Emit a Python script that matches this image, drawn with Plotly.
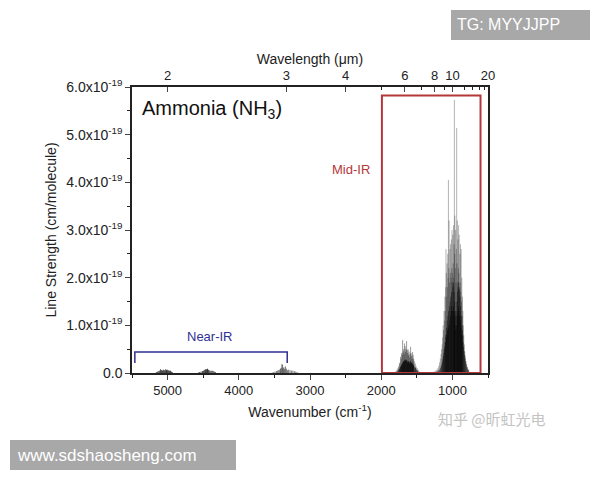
import plotly.graph_objects as go

# ---------------- data (wavenumber in cm^-1, line strength in 1e-19 cm/molecule) -------------
nir1_wn = [4935, 4948, 4960, 4972, 4983, 4995, 5005, 5015, 5026, 5037, 5048, 5060, 5072, 5085, 5098, 5110, 5124, 5140, 5158]
nir1_s = [0.02, 0.03, 0.05, 0.04, 0.06, 0.05, 0.07, 0.06, 0.08, 0.05, 0.06, 0.07, 0.05, 0.06, 0.08, 0.05, 0.04, 0.03, 0.02]

nir2_wn = [4330, 4345, 4360, 4375, 4390, 4405, 4420, 4430, 4440, 4450, 4460, 4470, 4480, 4495, 4510, 4530, 4550, 4565]
nir2_s = [0.02, 0.03, 0.04, 0.05, 0.04, 0.05, 0.06, 0.07, 0.09, 0.08, 0.07, 0.08, 0.06, 0.05, 0.04, 0.03, 0.02, 0.01]

nir3_wn = [3180, 3200, 3220, 3240, 3260, 3280, 3300, 3315, 3330, 3345, 3355, 3365, 3375, 3385,
           3395, 3405, 3415, 3425, 3440, 3455, 3470, 3490, 3510, 3530]
nir3_s = [0.02, 0.03, 0.04, 0.05, 0.05, 0.06, 0.07, 0.06, 0.09, 0.14, 0.08, 0.12, 0.10, 0.17,
          0.19, 0.11, 0.09, 0.07, 0.06, 0.05, 0.04, 0.03, 0.02, 0.01]

nu4_wn = [1465, 1480, 1495, 1510, 1522, 1535, 1545, 1552, 1559, 1566, 1573, 1580, 1587, 1594, 1600,
          1608, 1615, 1622, 1628, 1635, 1643, 1650, 1657, 1664, 1671, 1678, 1685, 1692, 1699, 1706,
          1713, 1720, 1728, 1736, 1745, 1755, 1765, 1778, 1792, 1808]
nu4_s = [0.03, 0.06, 0.10, 0.14, 0.20, 0.25, 0.30, 0.38, 0.44, 0.30, 0.36, 0.42, 0.55, 0.40, 0.33,
         0.45, 0.38, 0.50, 0.42, 0.48, 0.67, 0.50, 0.45, 0.56, 0.62, 0.40, 0.50, 0.45, 0.69, 0.38,
         0.42, 0.30, 0.34, 0.22, 0.20, 0.14, 0.10, 0.07, 0.04, 0.02]
nu4w_wn = [1490, 1505, 1518, 1528, 1540, 1548, 1556, 1562, 1569, 1576, 1583, 1590, 1597, 1604, 1611,
           1618, 1625, 1631, 1638, 1646, 1653, 1660, 1667, 1674, 1681, 1688, 1695, 1702, 1709, 1716,
           1724, 1732, 1741, 1750, 1760, 1772]
nu4w_s = [0.05, 0.07, 0.10, 0.12, 0.14, 0.17, 0.20, 0.18, 0.22, 0.20, 0.23, 0.25, 0.22, 0.20, 0.23,
          0.25, 0.24, 0.22, 0.26, 0.28, 0.25, 0.27, 0.28, 0.26, 0.23, 0.25, 0.22, 0.20, 0.18, 0.16,
          0.14, 0.12, 0.09, 0.07, 0.05, 0.03]

nu2_wn = [770, 780, 790, 800, 810, 818, 826, 833, 840, 847, 852, 858, 863, 868, 872, 877, 881, 886,
          890, 895, 900, 905, 909, 913, 918, 922, 927, 931, 935, 940, 945, 950, 955, 960, 965, 968,
          972, 976, 980, 985, 990, 995, 1000, 1005, 1010, 1015, 1020, 1025, 1030, 1035, 1040, 1046,
          1050, 1056, 1060, 1065, 1070, 1075, 1080, 1085, 1090, 1095, 1100, 1106, 1112, 1118, 1124,
          1130, 1137, 1144, 1152, 1160, 1170, 1180, 1192, 1205, 1220, 1240, 1260, 1285]
nu2_s = [0.05, 0.08, 0.12, 0.18, 0.25, 0.35, 0.45, 0.60, 0.80, 1.00, 1.30, 1.60, 1.20, 2.00, 1.50,
         2.60, 1.70, 2.70, 1.90, 2.50, 1.80, 2.90, 2.10, 3.10, 2.20, 2.80, 1.90, 3.20, 2.30, 5.14,
         2.60, 1.90, 3.00, 2.20, 3.30, 2.50, 5.73, 2.70, 2.00, 3.10, 2.30, 2.90, 2.10, 3.00, 2.20,
         2.80, 2.00, 2.70, 2.10, 2.60, 1.90, 3.20, 2.20, 4.05, 2.00, 2.50, 1.80, 2.30, 1.60, 2.10,
         2.60, 1.80, 1.30, 1.60, 1.10, 1.30, 0.90, 1.00, 0.75, 0.60, 0.50, 0.40, 0.30, 0.22, 0.15,
         0.10, 0.07, 0.05, 0.03, 0.02]
nu2w_wn = [775, 785, 795, 805, 813, 822, 829, 836, 843, 849, 855, 861, 866, 870, 875, 879, 884, 888,
           893, 897, 902, 907, 911, 916, 920, 925, 929, 933, 937, 943, 948, 952, 958, 962, 967, 970,
           974, 978, 983, 988, 992, 997, 1003, 1008, 1012, 1017, 1022, 1027, 1032, 1037, 1043, 1048,
           1053, 1058, 1063, 1068, 1073, 1078, 1083, 1088, 1093, 1098, 1103, 1109, 1115, 1121, 1127,
           1134, 1141, 1148, 1156, 1165, 1175, 1186, 1198, 1212, 1230, 1250, 1275]
nu2w_s = [0.06, 0.09, 0.13, 0.18, 0.24, 0.30, 0.38, 0.46, 0.55, 0.65,
          0.78, 0.90, 1.00, 0.80, 1.20, 0.95, 1.40, 1.10, 1.60, 1.20,
          1.75, 1.30, 1.90, 1.40, 1.80, 1.20, 1.70, 1.30, 1.50, 1.00,
          1.20, 0.90, 1.30, 1.00, 1.50, 1.20, 1.70, 1.30, 1.90, 1.40,
          1.80, 1.30, 1.90, 1.40, 1.70, 1.30, 1.60, 1.20, 1.50, 1.10,
          1.40, 1.00, 1.30, 0.95, 1.20, 0.90, 1.10, 0.80, 0.95, 0.75,
          0.80, 0.65, 0.65, 0.55, 0.50, 0.42, 0.36, 0.30, 0.24, 0.19,
          0.15, 0.11, 0.08, 0.06, 0.05, 0.04, 0.03, 0.02, 0.01]

y_ticks = [0, 1, 2, 3, 4, 5, 6]
y_ticktext = ["0.0"] + [f"{v}.0x10<sup>-19</sup>" for v in y_ticks[1:]]
x_ticks = [5000, 4000, 3000, 2000, 1000]
wl_major = [2, 3, 4, 6, 8, 10, 20]
wl_minor = [5, 7, 9, 12, 14, 16, 18]

SCALE = 1e-19

def sticks(wn, s):
    xs, ys = [], []
    for w, v in zip(wn, s):
        xs += [w, w, None]
        ys += [0, v * SCALE, None]
    return xs, ys

fig = go.Figure()
for wn, s, a in [(nir1_wn, nir1_s, 0.7), (nir2_wn, nir2_s, 0.7), (nir3_wn, nir3_s, 0.5),
                 (nu4w_wn, nu4w_s, 0.6), (nu4_wn, nu4_s, 0.4),
                 (nu2w_wn, nu2w_s, 0.45), (nu2_wn, nu2_s, 0.3)]:
    xs, ys = sticks(wn, s)
    fig.add_trace(go.Scatter(x=xs, y=ys, mode="lines",
                             line=dict(color=f"rgba(0,0,0,{a})", width=1),
                             hoverinfo="skip", showlegend=False))
# invisible trace bound to the top (wavelength) axis
fig.add_trace(go.Scatter(x=nu2_wn, y=[0] * len(nu2_wn), xaxis="x2", mode="markers",
                         marker=dict(opacity=0), hoverinfo="skip", showlegend=False))

FONT = "Liberation Sans, Arial, sans-serif"
XR = [5500, 500]

# page body has an 8px margin: plot area on screen spans x 132-488, y 87-373
fig.update_layout(
    width=600, height=480,
    margin=dict(l=124, r=120, t=79, b=115),
    paper_bgcolor="white", plot_bgcolor="white",
    font=dict(family=FONT, size=13, color="#222"),
    xaxis=dict(range=XR, tickvals=x_ticks, ticks="outside", ticklen=5, tickwidth=1.2,
               showline=True, linecolor="#222", linewidth=1.5, showgrid=False, zeroline=False,
               tickfont=dict(size=13), automargin=False,
               minor=dict(dtick=500, ticks="outside", ticklen=3, tickcolor="#222"),
               title=dict(text="Wavenumber (cm<sup>-1</sup>)", font=dict(size=14), standoff=10)),
    xaxis2=dict(range=XR, overlaying="x", side="top", anchor="y",
                tickvals=[10000 / w for w in wl_major], ticktext=[str(w) for w in wl_major],
                ticks="inside", ticklen=5, tickwidth=1.2, showline=True, linecolor="#222",
                linewidth=1.5, showgrid=False, zeroline=False, tickfont=dict(size=13),
                automargin=False,
                minor=dict(tickvals=[10000 / w for w in wl_minor], ticks="inside", ticklen=3,
                           tickcolor="#222"),
                title=dict(text="Wavelength (\u03bcm)", font=dict(size=14), standoff=0)),
    yaxis=dict(range=[0, 6 * SCALE], tickvals=[v * SCALE for v in y_ticks], ticktext=y_ticktext,
               ticks="outside", ticklen=5, tickwidth=1.2, showline=True, mirror=True,
               linecolor="#222", linewidth=1.5, showgrid=False, zeroline=False,
               tickfont=dict(size=14), automargin=False,
               minor=dict(dtick=0.5 * SCALE, ticks="outside", ticklen=3, tickcolor="#222"),
               title=dict(text="Line Strength (cm/molecule)", font=dict(size=14), standoff=6)),
)

RED = "#b5373a"
BLUE = "#2e3192"
fig.add_shape(type="rect", xref="x", yref="y", x0=1990, x1=605, y0=0, y1=5.82 * SCALE,
              line=dict(color=RED, width=2))
fig.add_shape(type="path", xref="x", yref="y",
              path=f"M 5460 {0.21*SCALE} L 5460 {0.44*SCALE} L 3320 {0.44*SCALE} L 3320 {0.21*SCALE}",
              line=dict(color=BLUE, width=1.5))
fig.add_annotation(x=4400, y=0.76 * SCALE, xref="x", yref="y", text="Near-IR", showarrow=False,
                   font=dict(color=BLUE, size=13))
fig.add_annotation(x=2420, y=4.26 * SCALE, xref="x", yref="y", text="Mid-IR", showarrow=False,
                   font=dict(color=RED, size=13))
fig.add_annotation(x=5390, y=5.52 * SCALE, xref="x", yref="y", xanchor="left",
                   text="Ammonia (NH<sub>3</sub>)", showarrow=False,
                   font=dict(color="#111", size=20))

# watermarks (screen pixel positions converted to paper coordinates)
def px(xp):
    return (xp - 132) / 356

def py(yp):
    return (373 - yp) / 286

fig.add_shape(type="rect", xref="paper", yref="paper", x0=px(451), x1=px(590), y0=py(40), y1=py(10),
              fillcolor="#a8a8a8", line=dict(width=0), layer="above")
fig.add_annotation(xref="paper", yref="paper", x=px(455), y=py(25), xanchor="left", yanchor="middle",
                   text="TG: MYYJJPP", showarrow=False, font=dict(color="white", size=16))
fig.add_shape(type="rect", xref="paper", yref="paper", x0=px(10), x1=px(236), y0=py(470), y1=py(440),
              fillcolor="#a8a8a8", line=dict(width=0), layer="above")
fig.add_annotation(xref="paper", yref="paper", x=px(15), y=py(455), xanchor="left", yanchor="middle",
                   text="www.sdshaosheng.com", showarrow=False, font=dict(color="white", size=17))
fig.add_annotation(xref="paper", yref="paper", x=px(492), y=py(418), xanchor="center", yanchor="middle",
                   text="知乎 @昕虹光电", showarrow=False,
                   font=dict(color="#c4c4c4", size=15, family="Noto Sans CJK SC"))

fig.write_html("out.html")
